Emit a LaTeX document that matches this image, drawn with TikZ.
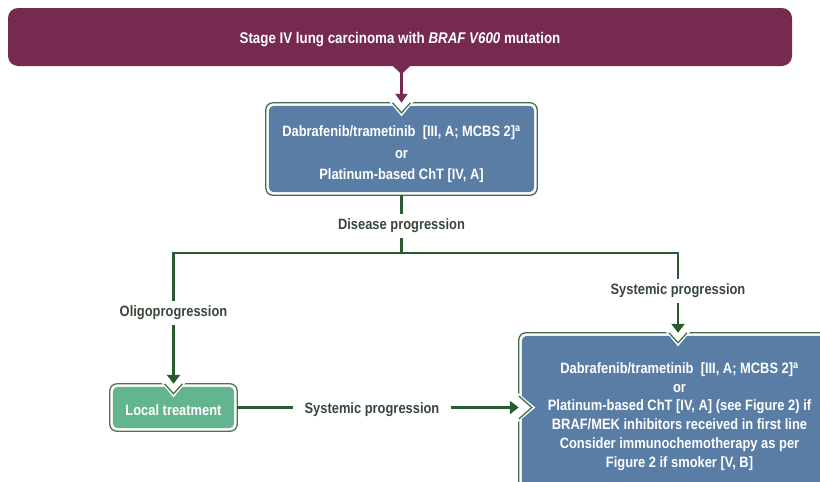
\documentclass[tikz,border=0pt]{standalone}
\usepackage{fontspec}
\setmainfont{Liberation Sans}[FakeStretch=0.86]
\usetikzlibrary{arrows.meta,backgrounds}
\definecolor{magen}{HTML}{762A50}
\definecolor{boxblue}{HTML}{5A7DA6}
\definecolor{boxgreen}{HTML}{63B58F}
\definecolor{bordgreen}{HTML}{416F4B}
\definecolor{linegreen}{HTML}{2A5A30}
\definecolor{labtext}{HTML}{38473A}
\newcommand\topnotch[1]{%
  \fill[white] ([xshift=-12.5pt,yshift=1.5pt]#1) -- ([yshift=-13.5pt]#1) -- ([xshift=12.5pt,yshift=1.5pt]#1) -- cycle;
  \draw[bordgreen,line width=1.3pt,line join=miter] ([xshift=-9pt]#1) -- ([yshift=-10pt]#1) -- ([xshift=9pt]#1);}
\newcommand\leftnotch[1]{%
  \fill[white] ([xshift=-1.5pt,yshift=15pt]#1) -- ([xshift=16.5pt]#1) -- ([xshift=-1.5pt,yshift=-15pt]#1) -- cycle;
  \draw[bordgreen,line width=1.3pt,line join=miter] ([yshift=11.5pt]#1) -- ([xshift=13pt]#1) -- ([yshift=-11.5pt]#1);}
\newcommand\dblbox[3]{%
  \draw[#2,line width=1.3pt,fill=white,rounded corners=7pt] (#1.north west) rectangle (#1.south east);
  \fill[#3,rounded corners=5pt] ([xshift=3pt,yshift=-3pt]#1.north west) rectangle ([xshift=-3pt,yshift=3pt]#1.south east);}
\begin{document}
\begin{tikzpicture}[x=1pt,y=-1pt,
  boxtext/.style={text=white,font=\bfseries\fontsize{15}{21.5}\selectfont,align=center,inner sep=0pt},
  boxshape/.style={inner sep=0pt},
  lab/.style={text=labtext,font=\bfseries\fontsize{15}{17}\selectfont,inner xsep=11pt,inner ysep=5pt},
  conn/.style={linegreen,line width=2.6pt},
  arr/.style={conn,-{Triangle[width=13pt,length=9pt]}}]
\useasboundingbox (0,0) rectangle (820,482);
\clip (0,0) rectangle (820,482);
% nodes
\node[boxshape,fill=magen,rounded corners=10pt,minimum width=784pt,minimum height=58pt] (top) at (400,37) {};
\node[boxtext,font=\bfseries\fontsize{15.5}{18}\selectfont] (topt) at (400,40)
      {Stage IV lung carcinoma with \textit{BRAF V600} mutation};
\node[boxshape,minimum width=271pt,minimum height=92pt] (b1) at (401.5,149) {};
\node[boxtext] (b1t) at (401.5,154.5)
      {Dabrafenib/trametinib\ \ [III, A; MCBS 2]\textsuperscript{a}\\or\\Platinum-based ChT [IV, A]};
\node[boxshape,minimum width=127pt,minimum height=47pt] (lt) at (173.5,407.5) {};
\node[boxtext] (ltt) at (173.5,410) {Local treatment};
\node[boxshape,minimum width=321pt,minimum height=167pt] (b2) at (679.5,416.5) {};
\node[boxtext,font=\bfseries\fontsize{15}{18.8}\selectfont] (b2t) at (679.5,416.5)
      {Dabrafenib/trametinib\ \ [III, A; MCBS 2]\textsuperscript{a}\\or\\Platinum-based ChT [IV, A] (see Figure 2) if\\BRAF/MEK inhibitors received in first line\\Consider immunochemotherapy as per\\Figure 2 if smoker [V, B]};
\node[lab] (dp) at (401.5,226) {Disease progression};
\node[lab] (ol) at (173.5,313) {Oligoprogression};
\node[lab] (sp) at (678,291) {Systemic progression};
\node[lab] (sb) at (372,410) {Systemic progression};
\coordinate (jl) at (173.5,253);
\coordinate (jr) at (678,253);
% backgrounds
\begin{scope}[on background layer]
  \dblbox{b1}{bordgreen}{boxblue}
  \dblbox{lt}{bordgreen!80!gray}{boxgreen}
  \dblbox{b2}{bordgreen}{boxblue}
  \topnotch{b1.north}
  \topnotch{lt.north}
  \topnotch{b2.north -| sp.south}
  \leftnotch{b2.west |- lt.east}
  \fill[magen] ([xshift=-9.5pt,yshift=1pt]top.south -| b1.north) -- ([yshift=-8pt]top.south -| b1.north) -- ([xshift=9.5pt,yshift=1pt]top.south -| b1.north) -- cycle;
\end{scope}
% connectors
\draw[magen,line width=2.6pt,-{Triangle[width=12pt,length=9pt]}] (top.south -| b1.north) -- (b1.north);
\draw[conn] (b1.south) -- (dp.north);
\draw[conn] (dp.south) -- (dp.south |- jl);
\draw[conn,line join=miter] (ol.north) -- (jl) -- (jr) -- (sp.north);
\draw[arr] (ol.south) -- (lt.north);
\draw[arr] (sp.south) -- (b2.north -| sp.south);
\draw[conn] (lt.east) -- (lt.east -| sb.west);
\draw[arr] (lt.east -| sb.east) -- (b2.west |- lt.east);
\end{tikzpicture}
\end{document}
